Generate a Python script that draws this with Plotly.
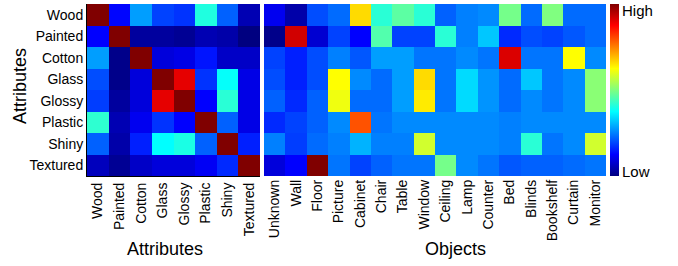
import plotly.graph_objects as go

attributes = ["Wood", "Painted", "Cotton", "Glass", "Glossy", "Plastic", "Shiny", "Textured"]
objects = ["Unknown", "Wall", "Floor", "Picture", "Cabinet", "Chair", "Table", "Window",
           "Ceiling", "Lamp", "Counter", "Bed", "Blinds", "Bookshelf", "Curtain", "Monitor"]

# attribute-attribute affinity (rows/cols: attributes), 0 = low, 1 = high
attr_attr = [
    [1.00, 0.13, 0.28, 0.19, 0.175, 0.405, 0.22, 0.05],
    [0.125, 1.00, 0.03, 0.03, 0.02, 0.05, 0.04, 0.00],
    [0.28, 0.01, 1.00, 0.09, 0.10, 0.145, 0.07, 0.07],
    [0.20, 0.01, 0.09, 1.00, 0.90, 0.175, 0.38, 0.10],
    [0.185, 0.03, 0.09, 0.90, 1.00, 0.125, 0.415, 0.10],
    [0.42, 0.05, 0.11, 0.175, 0.125, 1.00, 0.22, 0.10],
    [0.22, 0.04, 0.155, 0.375, 0.40, 0.22, 1.00, 0.155],
    [0.06, 0.02, 0.07, 0.09, 0.09, 0.115, 0.165, 1.00],
]

# attribute-object affinity (rows: attributes, cols: objects)
attr_obj = [
    [0.11, 0.04, 0.20, 0.23, 0.66, 0.415, 0.465, 0.415, 0.22, 0.25, 0.26, 0.49, 0.23, 0.50, 0.23, 0.23],
    [0.01, 0.92, 0.08, 0.19, 0.125, 0.455, 0.19, 0.19, 0.415, 0.25, 0.32, 0.165, 0.20, 0.19, 0.21, 0.23],
    [0.19, 0.155, 0.20, 0.25, 0.21, 0.28, 0.28, 0.24, 0.24, 0.26, 0.24, 0.91, 0.24, 0.24, 0.625, 0.26],
    [0.20, 0.155, 0.20, 0.625, 0.26, 0.23, 0.28, 0.66, 0.24, 0.34, 0.27, 0.23, 0.32, 0.24, 0.26, 0.51],
    [0.22, 0.165, 0.22, 0.61, 0.23, 0.23, 0.28, 0.645, 0.24, 0.34, 0.27, 0.23, 0.26, 0.24, 0.26, 0.51],
    [0.165, 0.19, 0.22, 0.26, 0.795, 0.24, 0.26, 0.26, 0.26, 0.26, 0.26, 0.25, 0.26, 0.26, 0.26, 0.26],
    [0.25, 0.185, 0.23, 0.25, 0.30, 0.25, 0.25, 0.58, 0.26, 0.26, 0.26, 0.25, 0.415, 0.24, 0.26, 0.58],
    [0.09, 0.125, 1.00, 0.24, 0.19, 0.22, 0.24, 0.24, 0.49, 0.26, 0.24, 0.21, 0.22, 0.22, 0.23, 0.24],
]

jet = [
    [0.0, "rgb(0,0,128)"],
    [0.125, "rgb(0,0,255)"],
    [0.375, "rgb(0,255,255)"],
    [0.625, "rgb(255,255,0)"],
    [0.875, "rgb(255,0,0)"],
    [1.0, "rgb(128,0,0)"],
]

W, H = 678, 266
L, R, T, B = 87, 72, 4, 90
pw = W - L - R
ph = H - T - B

def px_x(x):
    return (x - L) / pw

def px_y(y):
    return (H - B - y) / ph

font = "Liberation Sans, Arial, sans-serif"

fig = go.Figure()
fig.add_trace(go.Heatmap(z=attr_attr, x=attributes, y=attributes, coloraxis="coloraxis",
                         xaxis="x", yaxis="y", hoverinfo="skip"))
fig.add_trace(go.Heatmap(z=attr_obj, x=objects, y=attributes, coloraxis="coloraxis",
                         xaxis="x2", yaxis="y2", hoverinfo="skip"))

fig.update_layout(
    width=W, height=H, autosize=False,
    margin=dict(l=L, r=R, t=T, b=B, pad=0),
    paper_bgcolor="white", plot_bgcolor="white",
    font=dict(family=font, size=14, color="black"),
    showlegend=False,
    coloraxis=dict(
        colorscale=jet, cmin=0, cmax=1,
        colorbar=dict(x=px_x(610), xanchor="left", xpad=0, ypad=0,
                      y=0.5, yanchor="middle", len=1, lenmode="fraction",
                      thickness=9, outlinewidth=0, showticklabels=False, ticks=""),
    ),
    xaxis=dict(domain=[0, px_x(260)], tickangle=-90, ticks="", showgrid=False,
               showline=True, linecolor="black", linewidth=1, mirror=False,
               tickfont=dict(size=14), anchor="y", automargin=False),
    yaxis=dict(autorange="reversed", ticks="", showgrid=False, showline=True,
               linecolor="black", linewidth=1, tickfont=dict(size=14), anchor="x",
               automargin=False),
    xaxis2=dict(domain=[px_x(264), 1], tickangle=-90, ticks="", showgrid=False,
                showline=False, tickfont=dict(size=14), anchor="y2", automargin=False),
    yaxis2=dict(autorange="reversed", matches="y", showticklabels=False, ticks="",
                showgrid=False, showline=False, anchor="x2", automargin=False),
    annotations=[
        dict(text="Attributes", xref="paper", yref="paper", x=px_x(165), y=px_y(249),
             xanchor="center", yanchor="middle", showarrow=False, font=dict(size=18)),
        dict(text="Objects", xref="paper", yref="paper", x=px_x(455), y=px_y(249),
             xanchor="center", yanchor="middle", showarrow=False, font=dict(size=18)),
        dict(text="Attributes", xref="paper", yref="paper", x=px_x(20), y=px_y(86),
             xanchor="center", yanchor="middle", showarrow=False, textangle=-90,
             font=dict(size=18)),
        dict(text="High", xref="paper", yref="paper", x=px_x(620), y=px_y(11),
             xanchor="left", yanchor="middle", showarrow=False, font=dict(size=15)),
        dict(text="Low", xref="paper", yref="paper", x=px_x(620), y=px_y(171),
             xanchor="left", yanchor="middle", showarrow=False, font=dict(size=15)),
    ],
)

fig.write_html("out.html",
               config={"displayModeBar": False, "staticPlot": True},
               post_script="document.body.style.margin='0';document.body.style.padding='0';")
